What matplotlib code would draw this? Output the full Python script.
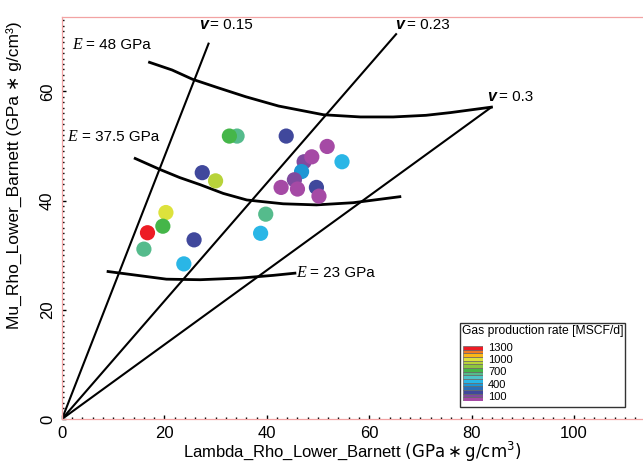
import matplotlib
matplotlib.use("Agg")
import matplotlib.pyplot as plt
import matplotlib.transforms as mtransforms
from matplotlib.colors import ListedColormap, BoundaryNorm
from matplotlib.patches import Rectangle
from matplotlib.ticker import MultipleLocator
import numpy as np

plt.rcParams["font.family"] = ["Liberation Sans", "DejaVu Sans"]
plt.rcParams["mathtext.fontset"] = "dejavusans"

# wells: lambda-rho, mu-rho, gas production rate (drawing order = back to front)
lam = [34.2, 32.7, 43.8, 51.8, 47.3, 48.8, 46.8, 54.7, 27.4, 30.0, 45.4, 42.8,
       46.0, 49.7, 50.2, 39.8, 38.8, 20.3, 19.7, 16.7, 16.0, 25.8, 23.8]
mu = [51.8, 51.8, 51.8, 49.9, 47.1, 48.0, 45.3, 47.1, 45.1, 43.6, 43.8, 42.4,
      42.1, 42.4, 40.8, 37.5, 34.0, 37.8, 35.3, 34.1, 31.1, 32.8, 28.4]
rate = [680, 760, 220, 50, 130, 50, 400, 500, 220, 950, 130, 50,
        50, 220, 50, 680, 500, 1030, 760, 1300, 680, 220, 500]

# Poisson ratio lines (from origin to end point)
nu_labels = ["0.15", "0.23", "0.3"]
nu_end_lam = [28.7, 65.4, 83.9]
nu_end_mu = [68.9, 70.6, 57.1]

# Young's modulus curves
e48_lam = [17.1, 21.5, 25.5, 30.3, 35.9, 42.3, 51.1, 58.3, 64.7, 71.1, 75.9, 80.7, 83.9]
e48_mu = [65.3, 63.9, 62.2, 60.7, 59.0, 57.3, 55.7, 55.3, 55.3, 55.6, 56.1, 56.7, 57.1]
e375_lam = [14.3, 19.1, 23.0, 27.0, 31.5, 36.1, 43.2, 49.7, 56.9, 66.0]
e375_mu = [47.7, 45.7, 44.2, 42.9, 41.3, 40.1, 39.4, 39.2, 39.6, 40.7]
e23_lam = [9.0, 13.9, 20.4, 27.0, 34.8, 41.3, 45.5]
e23_mu = [27.0, 26.4, 25.6, 25.5, 25.8, 26.3, 26.7]

# legend colour bands (bottom to top) and tick labels
band_colors = ["#a54aa5", "#7f4a9f", "#40489c", "#2b6fb8", "#1e96d4", "#2ab6e6",
               "#4fc3c8", "#55bb8c", "#45b649", "#8dc63f", "#b8d33a", "#dde23c",
               "#fbb817", "#f47b20", "#ed1c24"]
band_bounds = np.linspace(0, 1350, len(band_colors) + 1)
legend_ticks = [1300, 1000, 700, 400, 100]

cmap = ListedColormap(band_colors)
norm = BoundaryNorm(band_bounds, cmap.N)

fig = plt.figure(figsize=(6.43, 4.66), dpi=100)
ax = fig.add_axes([62 / 643, 1 - 419 / 466, 581 / 643, 402 / 466])
ax.set_xlim(0, 113.5)
ax.set_ylim(0, 73.6)

for el, em in zip(nu_end_lam, nu_end_mu):
    ax.plot([0, el], [0, em], color="black", lw=1.5, solid_capstyle="butt")
for xs, ys in [(e48_lam, e48_mu), (e375_lam, e375_mu), (e23_lam, e23_mu)]:
    ax.plot(xs, ys, color="black", lw=2.0, solid_joinstyle="round")

ax.scatter(lam, mu, c=rate, cmap=cmap, norm=norm, s=120, edgecolors="none", zorder=3)


def label(x, y, sym, rest, sym_style, gap):
    ax.text(x, y, sym, va="center", ha="left", fontsize=11.5, **sym_style)
    ax.annotate(rest, xy=(x, y), xytext=(gap, 0), textcoords="offset points",
                va="center", ha="left", fontsize=11)


v_style = dict(fontweight="bold", fontstyle="italic")
e_style = dict(family="Liberation Serif", fontstyle="italic")
label(26.7, 72.2, "v", "= 0.15", v_style, 8.5)
label(65.1, 72.2, "v", "= 0.23", v_style, 8.5)
label(83.1, 59.0, "v", "= 0.3", v_style, 8.5)
label(1.9, 68.5, "E", "= 48 GPa", e_style, 10)
label(1.1, 51.7, "E", "= 37.5 GPa", e_style, 10)
label(45.8, 26.7, "E", "= 23 GPa", e_style, 10)

ax.xaxis.set_major_locator(MultipleLocator(20))
ax.yaxis.set_major_locator(MultipleLocator(20))
ax.xaxis.set_minor_locator(MultipleLocator(2))
ax.yaxis.set_minor_locator(MultipleLocator(1))
ax.tick_params(which="major", direction="in", length=3, width=1, labelsize=12, pad=5)
ax.tick_params(which="minor", direction="in", length=1.5, width=1)
ax.tick_params(axis="y", labelrotation=90)
for t in ax.get_yticklabels():
    t.set_va("center")

for side in ["left", "bottom", "top"]:
    ax.spines[side].set_color("#f2a3a3")
    ax.spines[side].set_linewidth(0.9)
ax.spines["left"].set_linestyle((0, (2, 1)))
ax.spines["bottom"].set_linestyle((0, (2, 1)))
ax.spines["right"].set_visible(False)

ax.set_xlabel(r"Lambda_Rho_Lower_Barnett $(\mathrm{GPa}\ast\mathrm{g/cm^3})$",
              fontsize=12)
ax.xaxis.set_label_coords(0.5, -0.081)
ax.xaxis.label.set_va("center")
ax.set_ylabel("Mu_Rho_Lower_Barnett (GPa \u2217 g/cm\u00b3)", fontsize=12.5)
ax.yaxis.set_label_coords(-0.067, 0.607)

# legend box
fig.add_artist(Rectangle((460 / 643, 1 - 407 / 466), 165 / 643, 84 / 466,
                         transform=fig.transFigure, facecolor="white",
                         edgecolor="#333333", lw=1, zorder=5))
fig.text(462 / 643, 1 - 331 / 466, "Gas production rate [MSCF/d]", fontsize=8.7,
         va="center", ha="left", zorder=6)
lax = fig.add_axes([463 / 643, 1 - 401 / 466, 20 / 643, 55 / 466], zorder=6)
lax.bar(0, np.diff(band_bounds), bottom=band_bounds[:-1], width=1,
        color=band_colors, edgecolor="#666666", linewidth=0.5)
lax.set_xlim(-0.5, 0.5)
lax.set_ylim(band_bounds[0], band_bounds[-1])
lax.axis("off")
tr = mtransforms.blended_transform_factory(lax.transAxes, lax.transData)
for v in legend_ticks:
    lax.text(1.25, v, str(v), transform=tr, fontsize=8, va="center", ha="left")

fig.savefig("out.png", dpi=100)
